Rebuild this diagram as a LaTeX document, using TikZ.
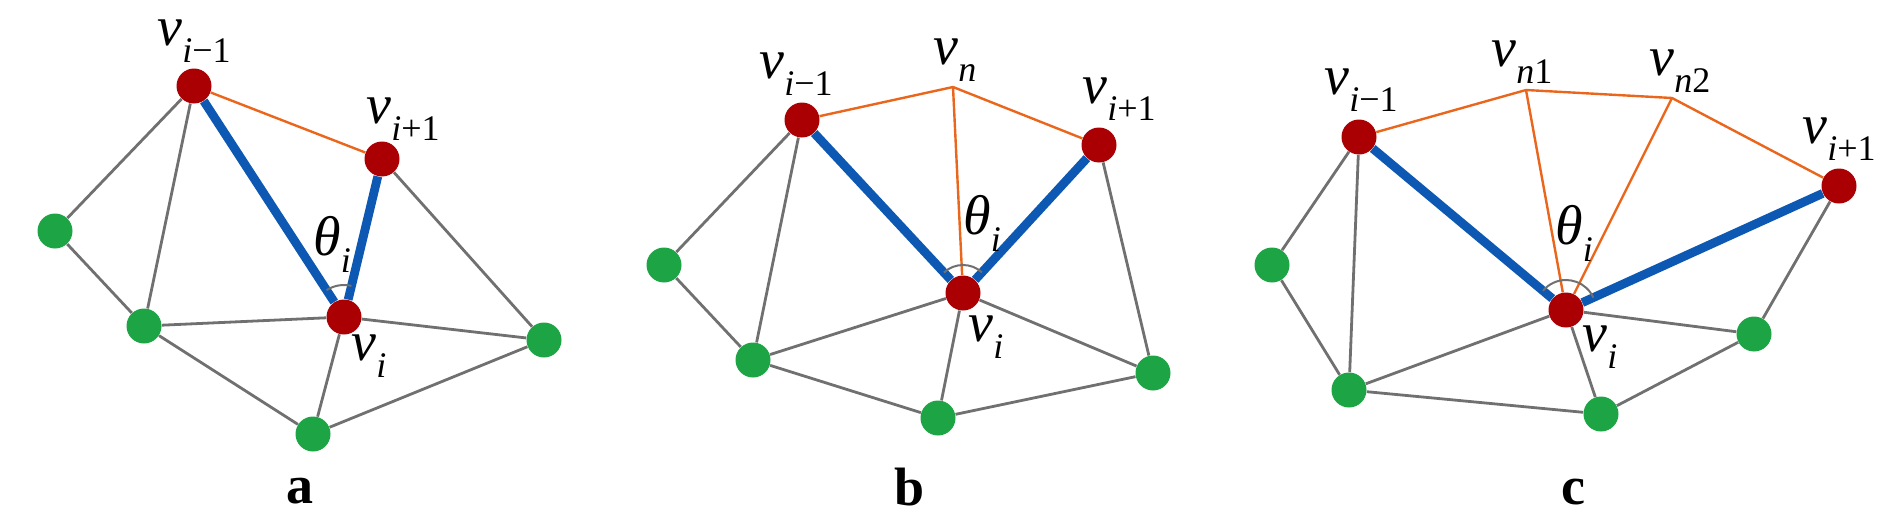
\documentclass[tikz,border=0pt]{standalone}
\usepackage{fontspec}
\setmainfont{Liberation Serif}
\usetikzlibrary{angles}
\definecolor{vred}{RGB}{170,0,4}
\definecolor{vgreen}{RGB}{29,164,68}
\definecolor{vblue}{RGB}{12,88,178}
\definecolor{vorange}{RGB}{234,102,28}
\definecolor{edgegray}{RGB}{112,112,112}
\newcommand\vsub[1]{\textit{v}\raisebox{-8.5pt}{\fontsize{18}{18}\selectfont#1}}
\newcommand\thsub{\textit{θ}\raisebox{-8.5pt}{\fontsize{18}{18}\selectfont\textit{i}}}
\begin{document}
\begin{tikzpicture}[x=0.5pt,y=-0.5pt,
  redpt/.style={circle,fill=vred,inner sep=0pt,minimum size=17.5pt},
  greenpt/.style={circle,fill=vgreen,inner sep=0pt,minimum size=17.5pt},
  mesh/.style={draw=edgegray,line width=1.4pt},
  ring/.style={draw=vorange,line width=1.2pt},
  spoke/.style={draw=vblue,line width=4.4pt},
  lab/.style={font=\fontsize{28}{28}\selectfont,inner sep=0pt},
  panel/.style={font=\fontsize{27}{27}\selectfont\bfseries,inner sep=0pt}]
\useasboundingbox (0,0) rectangle (1897,530);
%
% a
\node[redpt] (aim) at (194,86) {};
\node[redpt] (aip) at (382,159) {};
\node[redpt] (avi) at (344,317) {};
\node[greenpt] (ag1) at (55,231) {};
\node[greenpt] (ag2) at (144,326) {};
\node[greenpt] (ag3) at (544,340) {};
\node[greenpt] (ag4) at (313,434) {};
\draw[mesh] (aim) -- (ag1) -- (ag2) -- (aim);
\draw[mesh] (ag2) -- (avi) -- (ag3) -- (aip);
\draw[mesh] (ag2) -- (ag4) -- (ag3);
\draw[mesh] (avi) -- (ag4);
\draw[ring] (aim) -- (aip);
\draw[spoke] (aim) -- (avi) -- (aip);
\pic[draw=edgegray,line width=1pt,angle radius=16pt] {angle=aip--avi--aim};
\node[lab] (aimlab) at (194,41) {\vsub{\textit{i}−1}};
\node[lab] (aiplab) at (403,119) {\vsub{\textit{i}+1}};
\node[lab] (athlab) at (332,244) {\thsub};
\node[lab] (avilab) at (369,356) {\vsub{\textit{i}}};
\node[panel] (alab) at (300,491) {a};
%
% b
\node[redpt] (bim) at (802,120) {};
\coordinate (bn) at (953,87);
\node[redpt] (bip) at (1099,145) {};
\node[redpt] (bvi) at (963,293) {};
\node[greenpt] (bg1) at (664,265) {};
\node[greenpt] (bg2) at (753,360) {};
\node[greenpt] (bg3) at (938,418) {};
\node[greenpt] (bg4) at (1153,373) {};
\draw[mesh] (bim) -- (bg1) -- (bg2) -- (bim);
\draw[mesh] (bg2) -- (bvi) -- (bg4) -- (bip);
\draw[mesh] (bg2) -- (bg3) -- (bg4);
\draw[mesh] (bvi) -- (bg3);
\draw[ring] (bim) -- (bn) -- (bip);
\draw[ring] (bn) -- (bvi);
\draw[spoke] (bim) -- (bvi) -- (bip);
\pic[draw=edgegray,line width=1pt,angle radius=14pt] {angle=bip--bvi--bim};
\node[lab] (bimlab) at (796,74) {\vsub{\textit{i}−1}};
\node[lab] (bnlab) at (955,60) {\vsub{\textit{n}}};
\node[lab] (biplab) at (1119,99) {\vsub{\textit{i}+1}};
\node[lab] (bthlab) at (982,223) {\thsub};
\node[lab] (bvilab) at (986,337) {\vsub{\textit{i}}};
\node[panel] (blab) at (910,487) {b};
%
% c
\node[redpt] (cim) at (1359,137) {};
\coordinate (cn1) at (1526,90);
\coordinate (cn2) at (1672,98);
\node[redpt] (cip) at (1839,186) {};
\node[redpt] (cvi) at (1566,310) {};
\node[greenpt] (cg1) at (1272,265) {};
\node[greenpt] (cg2) at (1349,390) {};
\node[greenpt] (cg3) at (1601,414) {};
\node[greenpt] (cg4) at (1754,334) {};
\draw[mesh] (cim) -- (cg1) -- (cg2) -- (cim);
\draw[mesh] (cg2) -- (cvi) -- (cg4) -- (cip);
\draw[mesh] (cg2) -- (cg3) -- (cg4);
\draw[mesh] (cvi) -- (cg3);
\draw[ring] (cim) -- (cn1) -- (cn2) -- (cip);
\draw[ring] (cn1) -- (cvi) -- (cn2);
\draw[spoke] (cim) -- (cvi) -- (cip);
\pic[draw=edgegray,line width=1pt,angle radius=15pt] {angle=cip--cvi--cim};
\node[lab] (cimlab) at (1361,90) {\vsub{\textit{i}−1}};
\node[lab] (cn1lab) at (1522,62) {\vsub{\textit{n}1}};
\node[lab] (cn2lab) at (1680,71) {\vsub{\textit{n}2}};
\node[lab] (ciplab) at (1839,139) {\vsub{\textit{i}+1}};
\node[lab] (cthlab) at (1574,233) {\thsub};
\node[lab] (cvilab) at (1600,347) {\vsub{\textit{i}}};
\node[panel] (clab) at (1573,492) {c};
\end{tikzpicture}
\end{document}
